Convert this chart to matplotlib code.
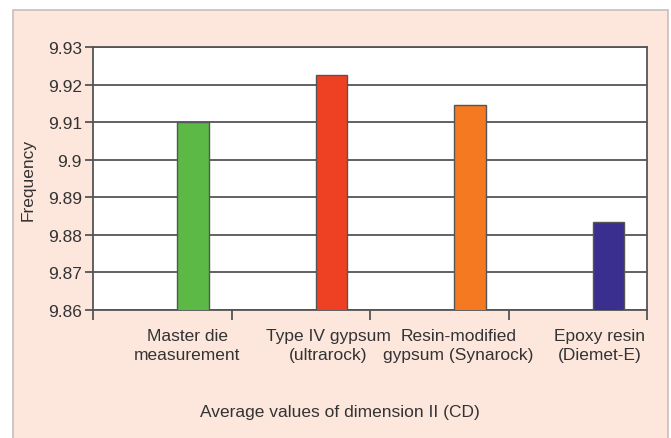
import numpy as np
import matplotlib.pyplot as plt
from matplotlib.patches import Rectangle

# data
categories = ['Master die\nmeasurement', 'Type IV gypsum\n(ultrarock)',
              'Resin-modified\ngypsum (Synarock)', 'Epoxy resin\n(Diemet-E)']
values = [9.910, 9.9225, 9.9145, 9.8833]
colors = ['#5cb946', '#ee4123', '#f47920', '#3a2e8e']
yticks = [9.86, 9.87, 9.88, 9.89, 9.90, 9.91, 9.92, 9.93]
ytick_labels = ['9.86', '9.87', '9.88', '9.89', '9.9', '9.91', '9.92', '9.93']

plt.rcParams['font.family'] = ['Liberation Sans', 'DejaVu Sans']

W, H = 671, 439
fig = plt.figure(figsize=(W / 100, H / 100), dpi=100)
fig.patch.set_facecolor('white')

# pink panel behind the chart
panel = Rectangle((13 / W, -0.01), (668 - 13) / W, (H - 11) / H + 0.01,
                  transform=fig.transFigure, facecolor='#fde7dd',
                  edgecolor='#c4c0bf', linewidth=1.2, zorder=-1)
fig.patches.append(panel)

ax = fig.add_axes([93 / W, (H - 311) / H, (647 - 93) / W, (311 - 48) / H])
ax.set_zorder(1)
ax.set_facecolor('white')

x = np.arange(len(values)) + 0.222
ax.bar(x, values, width=0.224, color=colors, edgecolor='#555555',
       linewidth=1.0, zorder=3)

ax.set_xlim(-0.5, 3.5)
ax.set_ylim(9.86, 9.93)
ax.set_yticks(yticks)
ax.set_yticklabels(ytick_labels, fontsize=12.5, color='#333333')
ax.yaxis.grid(True, color='#555555', linewidth=1.3, zorder=1)
ax.set_axisbelow(True)

# category boundary ticks, labels under the bars
ax.set_xticks([-0.5, 0.5, 1.5, 2.5, 3.5])
ax.set_xticklabels([])
ax.tick_params(axis='x', length=7, width=1.3, color='#555555', direction='out')
ax.tick_params(axis='y', length=6, width=1.3, color='#555555', direction='out', pad=2)
label_x = [0.18, 1.20, 2.14, 3.16]
for lx, lab in zip(label_x, categories):
    ax.text(lx, -0.07, lab, transform=ax.get_xaxis_transform(), ha='center',
            va='top', fontsize=12.5, color='#333333', linespacing=1.3)

for sp in ax.spines.values():
    sp.set_color('#555555')
    sp.set_linewidth(1.3)

ax.set_ylabel('Frequency', fontsize=12.5, color='#333333', labelpad=9)
fig.text(340 / W, 1 - 413 / H, 'Average values of dimension II (CD)',
         ha='center', va='center', fontsize=12.5, color='#333333')

fig.savefig('out.png', dpi=100)
